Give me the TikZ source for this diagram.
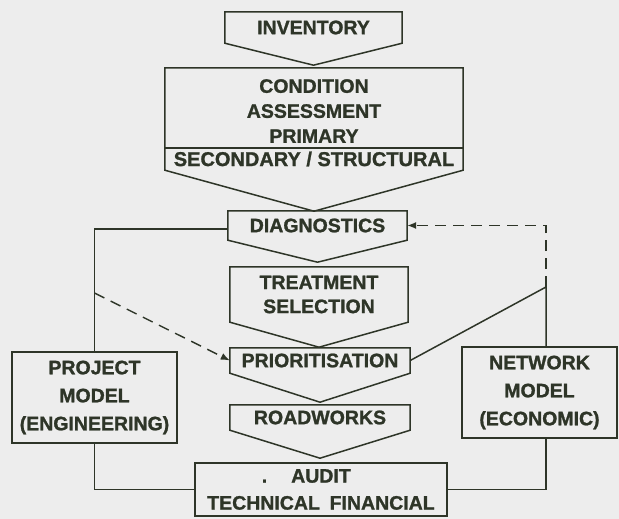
\documentclass[tikz,border=0pt]{standalone}
\usepackage{fontspec}
\setmainfont{Liberation Sans}[BoldFeatures={FakeBold=1.2}]
\usepackage{tikz}
\usetikzlibrary{arrows.meta, calc}
\usepackage{xcolor}
\definecolor{paper}{HTML}{EDEDED}
\definecolor{ink}{HTML}{2E3528}
\newcommand{\chevbox}[2]{%
  \draw[outline] (#1.north west) -- (#1.north east) -- (#1.south east)
    -- ($(#1.south)+(0,#2)$) -- (#1.south west) -- cycle;}

\begin{document}
\begin{tikzpicture}[
    x=1pt, y=-1pt,
    block/.style={rectangle, inner sep=0pt, align=center, text=ink, font=\bfseries\fontsize{19.5}{25}\selectfont},
    framed/.style={block, draw=ink, line width=1.5pt},
    side/.style={framed, font=\bfseries\fontsize{19.5}{28}\selectfont},
    outline/.style={draw=ink, line width=1.5pt},
    link/.style={draw=ink, line width=1.5pt},
    feedback/.style={draw=ink, line width=1.4pt, dash pattern=on 11pt off 7pt, -{Latex[length=9pt, width=7pt]}}
]
\fill[paper] (0,0) rectangle (619,519);

\node[block, minimum width=177pt, minimum height=31pt] (inv) at (313.5,27.5) {INVENTORY};
\node[block, minimum width=298pt, minimum height=80pt] (cond) at (314,111) {CONDITION\\ASSESSMENT\\PRIMARY};
\node[block, minimum width=298pt, minimum height=22pt, font=\bfseries\fontsize{20}{25}\selectfont] (sec) at (314,159) {SECONDARY / STRUCTURAL};
\node[block, minimum width=179pt, minimum height=29pt] (diag) at (317.5,225.5) {DIAGNOSTICS};
\node[block, minimum width=178pt, minimum height=55pt, font=\bfseries\fontsize{19.5}{24}\selectfont] (treat) at (319,294.5) {TREATMENT\\SELECTION};
\node[block, minimum width=180pt, minimum height=25pt] (prio) at (320,360.5) {PRIORITISATION};
\node[block, minimum width=180pt, minimum height=25pt] (road) at (320,417.5) {ROADWORKS};
\node[framed, minimum width=252pt, minimum height=53pt, font=\bfseries\fontsize{19.5}{27}\selectfont] (audit) at (321,489.5) {\makebox[0pt][r]{.\hspace{24pt}}AUDIT\\TECHNICAL\enspace FINANCIAL};
\node[side, minimum width=165pt, minimum height=91pt] (proj) at (94.5,397.5) {PROJECT\\MODEL\\(ENGINEERING)};
\node[side, minimum width=155pt, minimum height=91pt] (net) at (539.5,392.5) {NETWORK\\MODEL\\(ECONOMIC)};

% chevron outlines
\chevbox{inv}{22}
\draw[outline] (cond.north west |- 0,68) -- (cond.north east |- 0,68) -- (sec.south east)
  -- ($(sec.south)+(0,41)$) -- (sec.south west) -- cycle;
\draw[outline] (sec.north west) -- (sec.north east);
\chevbox{diag}{22}
\chevbox{treat}{25}
\chevbox{prio}{29}
\chevbox{road}{28}

% side models
\coordinate (pbend) at (94.5,229);
\coordinate (pjoin) at (94.5,293);
\coordinate (nbend) at (546,225.5);
\coordinate (njoin) at (546,287);

\draw[link] (proj.north) -- (pbend) -- (pbend -| diag.west);
\draw[link] (proj.south) |- (audit.west);
\draw[link] (net.north -| njoin) -- (njoin) -- (prio.east);
\draw[link] (net.south -| njoin) |- (audit.east);
\draw[feedback] (njoin) -- (nbend) -- (diag.east);
\draw[feedback] (pjoin) -- (prio.west);
\end{tikzpicture}
\end{document}
